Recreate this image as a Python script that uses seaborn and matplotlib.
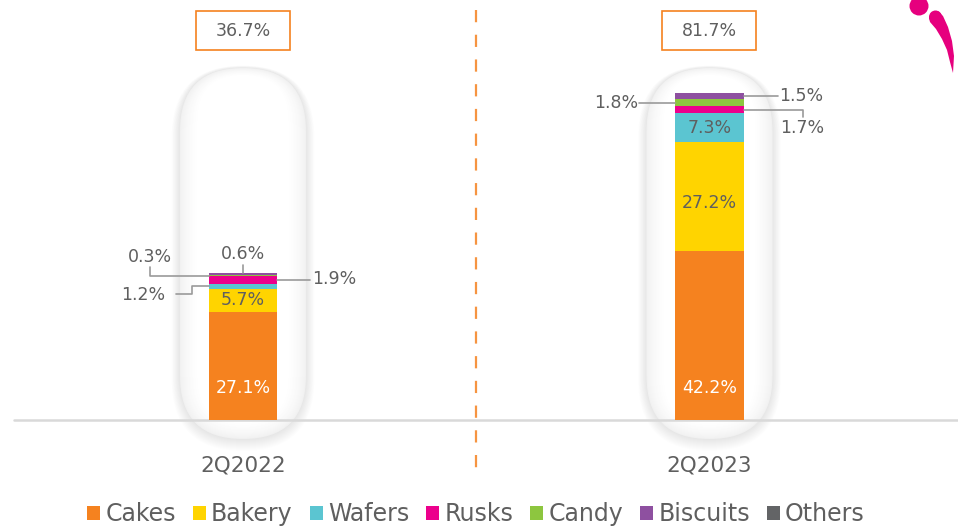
import matplotlib
matplotlib.use("Agg")
import numpy as np
import pandas as pd
import matplotlib.pyplot as plt
import seaborn as sns
from matplotlib.patches import FancyBboxPatch, Rectangle, Circle, Polygon, Patch
from matplotlib.transforms import Affine2D

# data
categories = ["Cakes", "Bakery", "Wafers", "Rusks", "Candy", "Biscuits", "Others"]
colors = ["#F5821F", "#FFD400", "#5BC5D1", "#EC008C", "#8DC63F", "#8E50A0", "#636466"]
periods = ["2Q2022", "2Q2023"]
share_2q2022 = [27.1, 5.7, 1.2, 1.9, 0.3, 0.6, 0.0]
share_2q2023 = [42.2, 27.2, 7.3, 1.7, 1.8, 1.5, 0.0]
totals = [36.7, 81.7]

sns.set_style("white")
plt.rcParams["font.family"] = ["DejaVu Sans"]
plt.rcParams["lines.scale_dashes"] = False
GREY = "#5f5f5f"
ORANGE = "#F5821F"

W, H = 958, 527
fig = plt.figure(figsize=(W / 100, H / 100), dpi=100)
ax = fig.add_axes([0, 0, 1, 1])
ax.patch.set_visible(False)
# pixel coords, origin top-left
px = Affine2D().scale(1 / W, -1 / H).translate(0, 1) + fig.transFigure

df = pd.DataFrame({
    "category": np.repeat(categories, 2),
    "period": periods * len(categories),
    "share": [v for pair in zip(share_2q2022, share_2q2023) for v in pair],
})
df["bottom"] = df.groupby("period")["share"].cumsum() - df["share"]

for cat, col in zip(categories, colors):
    sub = df[df["category"] == cat]
    sns.barplot(data=sub, x="period", y="share", order=periods, bottom=sub["bottom"].values,
                color=col, saturation=1, width=0.146, linewidth=0, errorbar=None,
                ax=ax, zorder=3)

ax.set_xlim(-243 / 466.5, (W - 243) / 466.5)
ax.set_ylim(-107 / 4, 420 / 4)
ax.axis("off")


def to_px(x, y):
    return px.inverted().transform(ax.transData.transform((x, y)))


def seg(period_i, cat_i):
    sub = df[(df["period"] == periods[period_i]) & (df["category"] == categories[cat_i])].iloc[0]
    return sub["bottom"], sub["share"]


half = 0.146 / 2

# pill backgrounds with soft shadow
for i in range(len(periods)):
    cx = to_px(i, 0)[0]
    top, bot, w = 68, 439, 126
    for k in range(12, 0, -1):
        ax.add_patch(FancyBboxPatch((cx - w / 2 - k * 0.7, top - k * 0.2), w + 1.4 * k,
                                    bot - top + k * 1.2,
                                    boxstyle=f"round,pad=0,rounding_size={w / 2 + k * 0.7}",
                                    transform=px, fc="black", alpha=0.009, ec="none",
                                    zorder=0.3, clip_on=False))
    for j in range(18):
        shade = 0.945 + 0.055 * (j / 17) ** 0.7
        ax.add_patch(FancyBboxPatch((cx - w / 2 + j, top + j * 0.4), w - 2 * j, bot - top - j * 1.3,
                                    boxstyle=f"round,pad=0,rounding_size={w / 2 - j}",
                                    transform=px, fc=(shade, shade, shade), ec="none",
                                    zorder=0.4, clip_on=False))

# baseline and divider
ax.axhline(0, xmin=14 / W, xmax=1, color="#d9d9d9", lw=1.8, zorder=2)
ax.plot([0.5, 0.5], [(420 - 10) / 4, (420 - 469) / 4], color=ORANGE, lw=1.6,
        dashes=(8.8, 9.0), zorder=2, alpha=0.85)

# totals boxes
for i, t in enumerate(totals):
    cx = to_px(i, 0)[0]
    ax.add_patch(Rectangle((cx - 47, 11), 94, 39, transform=px, fc="white", ec=ORANGE,
                           lw=1.2, zorder=4, clip_on=False))
    ax.text(cx, 31, f"{t}%", transform=px, ha="center", va="center", fontsize=12.5,
            color=GREY, zorder=5)

# labels inside the bars
for i, vals in enumerate([share_2q2022, share_2q2023]):
    ax.text(i, 8, f"{vals[0]}%", ha="center", va="center", fontsize=12.5, color="white", zorder=5)
    b, h = seg(i, 1)
    ax.text(i, b + h / 2 - (1.5 if h > 10 else 0), f"{vals[1]}%", ha="center", va="center",
            fontsize=12.5, color=GREY, zorder=5)
    if vals[2] > 5:
        b, h = seg(i, 2)
        ax.text(i, b + h / 2, f"{vals[2]}%", ha="center", va="center", fontsize=12.5,
                color=GREY, zorder=5)

# callouts: (period, category, bar side, leader path offsets, text offset, ha)
callouts = [
    (0, 4, -1, [(0, 0), (-59, 0), (-59, -9)], (-59, -19), "center"),
    (0, 5, 0, [(0, 0), (0, -8)], (0, -19), "center"),
    (0, 3, 1, [(0, 0), (33, 0)], (35, -1), "left"),
    (0, 2, -1, [(0, 0), (-17, 0), (-17, 8), (-33, 8)], (-66, 9), "center"),
    (1, 4, -1, [(0, 0), (-36, 0)], (-37, 0), "right"),
    (1, 5, 1, [(0, 0), (34, 0)], (36, 0), "left"),
    (1, 3, 1, [(0, 0), (59, 0), (59, 7)], (37, 18), "left"),
]
vals_by_period = [share_2q2022, share_2q2023]
for p, c, side, path, toff, ha in callouts:
    b, h = seg(p, c)
    xa, ya = to_px(p + side * half, b + h / 2)
    if side == 0:
        xa, ya = to_px(p, b + h)
    xs = [xa + dx for dx, dy in path]
    ys = [ya + dy for dx, dy in path]
    ax.plot(xs, ys, transform=px, color="#9a9a9a", lw=1.2, zorder=4, clip_on=False)
    ax.text(xa + toff[0], ya + toff[1], f"{vals_by_period[p][c]}%", transform=px, ha=ha,
            va="center", fontsize=12.5, color=GREY, zorder=5)

# period labels
for i, p in enumerate(periods):
    ax.text(i, -11.5, p, ha="center", va="center", fontsize=15.5, color=GREY)

# logo mark
PINK = "#E6007E"
ax.add_patch(Circle((919, 6), 9.5, transform=px, fc=PINK, ec="none", clip_on=False, zorder=5))
ax.add_patch(Circle((935.5, 17), 6.5, transform=px, fc=PINK, ec="none", clip_on=False, zorder=5))
ax.add_patch(Polygon([(929, 18), (932, 12), (938, 11), (943, 16), (948, 27), (952, 41),
                      (954, 56), (953, 73), (950, 62), (947, 50), (942, 39), (936, 29), (930, 22)],
                     transform=px, fc=PINK, ec="none", clip_on=False, zorder=5))

handles = [Patch(facecolor=c, edgecolor="none", label=l) for l, c in zip(categories, colors)]
fig.legend(handles=handles, loc="center", bbox_to_anchor=(476 / W, 1 - 514 / H), ncol=7,
           frameon=False, fontsize=17, handlelength=0.55, handleheight=0.55,
           handletextpad=0.22, columnspacing=0.72, labelcolor=GREY, borderaxespad=0)

fig.savefig("out.png", dpi=100)
